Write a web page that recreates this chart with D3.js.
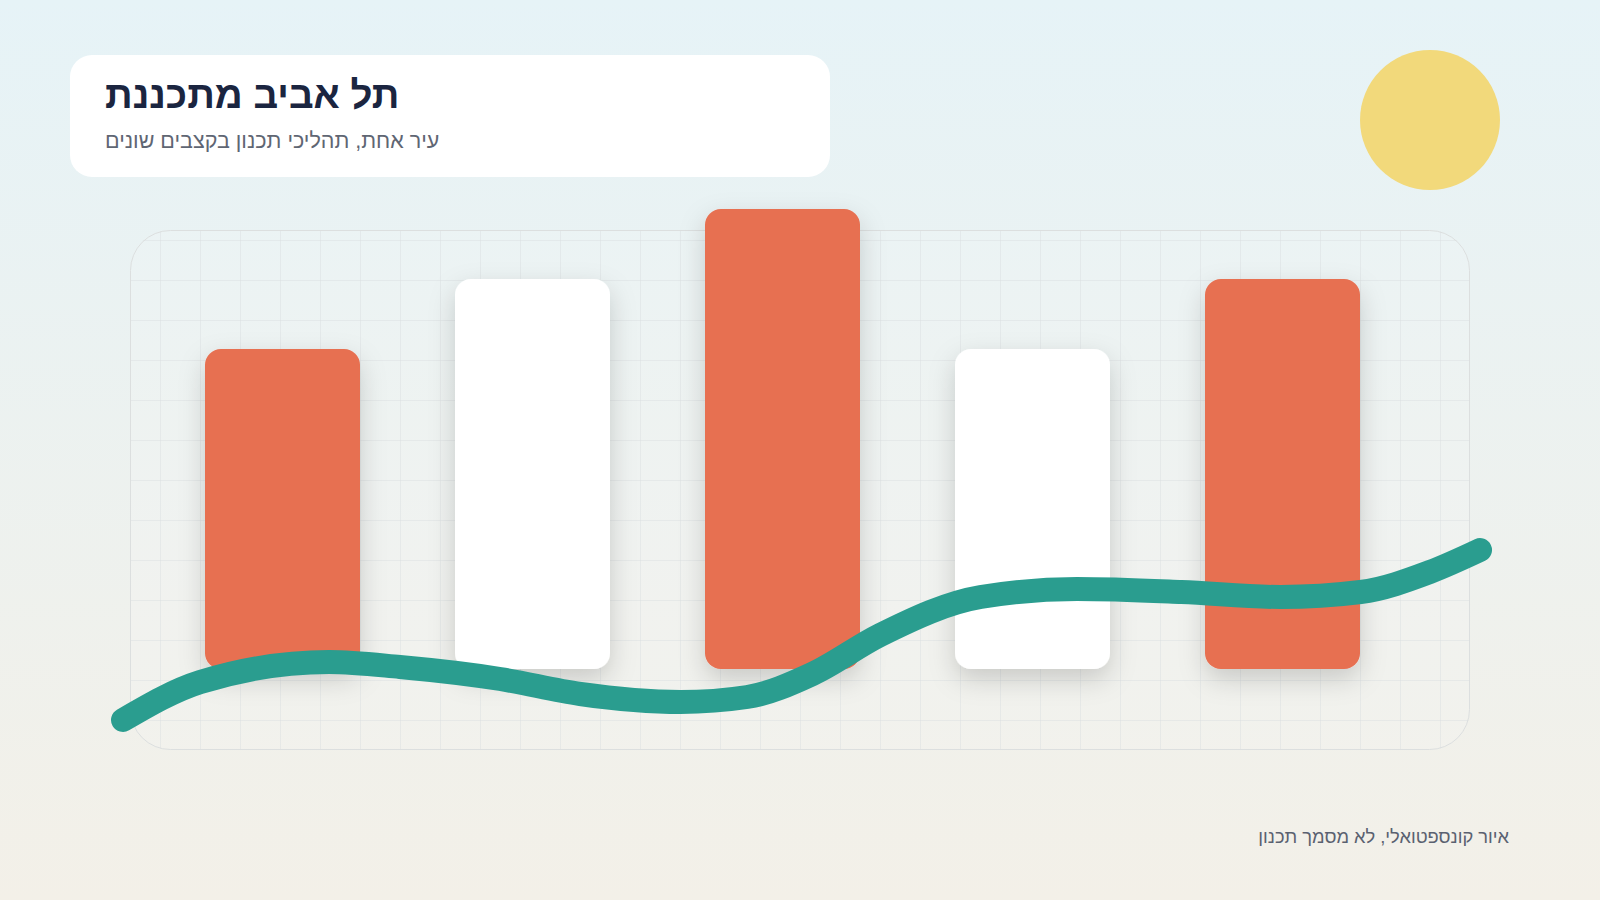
<!DOCTYPE html>
<html lang="he">
<head>
<meta charset="utf-8">
<script src="https://cdn.jsdelivr.net/npm/d3@7"></script>
<style>
  html, body { margin: 0; padding: 0; }
  body { width: 1600px; height: 900px; overflow: hidden; }
  svg { display: block; font-family: "Liberation Sans", Arial, sans-serif; }
</style>
</head>
<body>
<svg id="chart" width="1600" height="900"></svg>
<script>
// ---- data ----
const titleText = "תל אביב מתכננת";
const subtitleText = "עיר אחת, תהליכי תכנון בקצבים שונים";
const footerText = "איור קונספטואלי, לא מסמך תכנון";

const categories = ["1", "2", "3", "4", "5"];
const barValues = [32, 39, 46, 32, 39];
const barGroups = ["a", "b", "a", "b", "a"];

const lineT = [0, 5.7, 15.2, 20.4, 27.8, 33.7, 41.1, 46, 50.8, 55.8, 63.2, 70.3, 78, 85.3, 91.2, 96.3, 100];
const lineValues = [10, 29, 39, 36.5, 30.5, 23, 19, 21.5, 33, 52.5, 71.5, 75.5, 74, 71.5, 74, 84, 95];

// ---- layout ----
const W = 1600, H = 900;
const panel = { x: 130, y: 230, w: 1340, h: 520, r: 40 };
const svg = d3.select("#chart");
const defs = svg.append("defs");

const bg = defs.append("linearGradient").attr("id", "bg").attr("x1", 0).attr("y1", 0).attr("x2", 0).attr("y2", 1);
bg.append("stop").attr("offset", "0%").attr("stop-color", "#e6f3f7");
bg.append("stop").attr("offset", "100%").attr("stop-color", "#f3f0e8");

const sh = defs.append("filter").attr("id", "barShadow")
  .attr("x", "-40%").attr("y", "-20%").attr("width", "180%").attr("height", "150%");
sh.append("feDropShadow").attr("dx", 0).attr("dy", 10).attr("stdDeviation", 13)
  .attr("flood-color", "#000").attr("flood-opacity", 0.17);

defs.append("clipPath").attr("id", "panelClip")
  .append("rect").attr("x", panel.x).attr("y", panel.y).attr("width", panel.w).attr("height", panel.h)
  .attr("rx", panel.r);

svg.append("rect").attr("width", W).attr("height", H).attr("fill", "url(#bg)");

// title card
svg.append("rect").attr("x", 70).attr("y", 55).attr("width", 760).attr("height", 122)
  .attr("rx", 22).attr("fill", "#ffffff");
svg.append("text").attr("x", 105).attr("y", 108)
  .attr("direction", "rtl").attr("text-anchor", "end")
  .attr("font-size", 38.5).attr("font-weight", 700).attr("fill", "#1b2540")
  .text(titleText);
svg.append("text").attr("x", 105).attr("y", 148)
  .attr("direction", "rtl").attr("text-anchor", "end")
  .attr("font-size", 21.5).attr("fill", "#5f6673")
  .text(subtitleText);

// sun
svg.append("circle").attr("cx", 1430).attr("cy", 120).attr("r", 70).attr("fill", "#f2d97b");

// panel + grid
svg.append("rect").attr("x", panel.x).attr("y", panel.y).attr("width", panel.w).attr("height", panel.h)
  .attr("rx", panel.r).attr("fill", "rgba(255,255,255,0.12)");
const grid = svg.append("g").attr("clip-path", "url(#panelClip)")
  .attr("stroke", "#d9dedf").attr("stroke-opacity", 0.45).attr("stroke-width", 1);
grid.selectAll("line.v").data(d3.range(160, panel.x + panel.w, 40)).join("line")
  .attr("x1", d => d + 0.5).attr("x2", d => d + 0.5).attr("y1", panel.y).attr("y2", panel.y + panel.h);
grid.selectAll("line.h").data(d3.range(240, panel.y + panel.h, 40)).join("line")
  .attr("y1", d => d + 0.5).attr("y2", d => d + 0.5).attr("x1", panel.x).attr("x2", panel.x + panel.w);
svg.append("rect").attr("x", panel.x + 0.5).attr("y", panel.y + 0.5).attr("width", panel.w - 1).attr("height", panel.h - 1)
  .attr("rx", panel.r).attr("fill", "none").attr("stroke", "#dcdfdf").attr("stroke-width", 1);

// bars
const x = d3.scaleBand().domain(categories).range([205, 1360]).paddingInner(0.38).paddingOuter(0);
const y = d3.scaleLinear().domain([0, 50]).range([669, 169]);
const color = d3.scaleOrdinal().domain(["a", "b"]).range(["#e76f51", "#ffffff"]);

svg.append("g").selectAll("rect").data(categories).join("rect")
  .attr("x", d => x(d))
  .attr("y", (d, i) => y(barValues[i]))
  .attr("width", x.bandwidth())
  .attr("height", (d, i) => y(0) - y(barValues[i]))
  .attr("rx", 16)
  .attr("fill", (d, i) => color(barGroups[i]))
  .attr("filter", "url(#barShadow)");

// line
const lx = d3.scaleLinear().domain([0, 100]).range([123, 1480]);
const ly = d3.scaleLinear().domain([0, 100]).range([740, 540]);
const line = d3.line().x((d, i) => lx(lineT[i])).y(d => ly(d)).curve(d3.curveMonotoneX);
svg.append("path").attr("d", line(lineValues))
  .attr("fill", "none").attr("stroke", "#2a9d8f").attr("stroke-width", 24)
  .attr("stroke-linecap", "round").attr("stroke-linejoin", "round");

// footer
svg.append("text").attr("x", 1509).attr("y", 843)
  .attr("direction", "rtl").attr("text-anchor", "start")
  .attr("font-size", 18.3).attr("fill", "#5a6170")
  .text(footerText);
</script>
</body>
</html>
